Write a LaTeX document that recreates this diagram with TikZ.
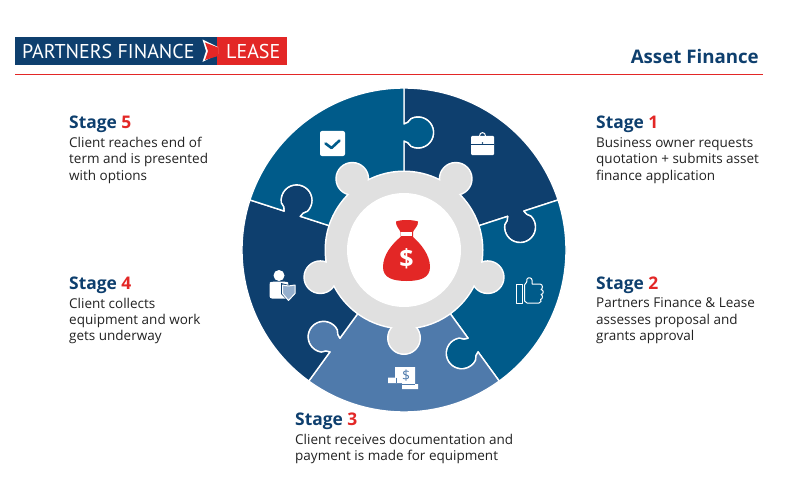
\documentclass[tikz,border=0pt]{standalone}
\usepackage{fontspec}
\setmainfont{Open Sans}
\newfontfamily\logofont{PT Sans}
\definecolor{navy}{HTML}{0E3F6E}
\definecolor{teal}{HTML}{005B8A}
\definecolor{steel}{HTML}{4F7AAB}
\definecolor{ringgray}{HTML}{E0E0E0}
\definecolor{pfred}{HTML}{E32726}
\definecolor{ink}{HTML}{222222}
\tikzset{
  piece/.style={draw=white,line width=1.4pt,line join=round},
  head/.style={anchor=base west,inner sep=0pt,font=\fontsize{17.4}{20}\selectfont\bfseries,text=navy},
  body/.style={anchor=north west,inner sep=0pt,align=left,text=ink,font=\fontsize{13.5}{16.4}\selectfont},
  logotext/.style={anchor=base west,inner sep=0pt,text=white,font=\logofont\fontsize{20}{22}\selectfont},
  iconline/.style={draw=white,line width=1pt,line join=round,line cap=round},
}
\newcommand{\num}[1]{\textcolor{pfred}{#1}}
\newcommand{\piecepath}{
  (0,0) -- (0,109) .. controls (3,109) and (5,106) .. (7,103.7)
  arc[start angle=-117,end angle=117,radius=15.5]
  .. controls (5,129) and (3,126) .. (0,126) -- (0,162)
  arc[start angle=90,end angle=18,radius=162]
  -- ([rotate=-72]0,126) .. controls ([rotate=-72]3,126) and ([rotate=-72]5,129) .. ([rotate=-72]7,131.3)
  arc[start angle=45,end angle=-189,radius=15.5]
  .. controls ([rotate=-72]5,106) and ([rotate=-72]3,109) .. ([rotate=-72]0,109) -- cycle
}
\begin{document}
\begin{tikzpicture}[x=1pt,y=-1pt]
\useasboundingbox (0,0) rectangle (800,500);
\fill[white] (0,0) rectangle (800,500);
% logo
\fill[navy] (15,37) rectangle (217,65);
\fill[pfred] (217,37) rectangle (287,65);
\fill[white] (202.5,39.5) -- (218,47) -- (218,54) -- (202.5,62) -- (206,51) -- cycle;
\fill[pfred] (205,42.5) -- (218,47.5) -- (218,56) -- (205,60) -- (208,51) -- cycle;
\node[logotext] (logoa) at (22,58.5) {PARTNERS FINANCE};
\node[logotext] (logob) at (226,58.5) {LEASE};
\node[anchor=base east,inner sep=0pt,text=navy,font=\fontsize{18.7}{22}\selectfont\bfseries] (title) at (759,64) {Asset Finance};
\draw[pfred,line width=1.2pt] (15,74.7) -- (763,74.7);
% wheel
\begin{scope}[shift={(404,250)},x=1pt,y=1pt]
  \begin{scope}[rotate=0]\path[piece,fill=navy] \piecepath;\end{scope}
  \begin{scope}[rotate=-72]\path[piece,fill=teal] \piecepath;\end{scope}
  \begin{scope}[rotate=-144]\path[piece,fill=steel] \piecepath;\end{scope}
  \begin{scope}[rotate=-216]\path[piece,fill=navy] \piecepath;\end{scope}
  \begin{scope}[rotate=-288]\path[piece,fill=teal] \piecepath;\end{scope}
  \foreach \a in {54,126,198,270,342}{
    \fill[white] (\a:88) circle[radius=17];
  }
  \fill[white] (0,0) circle[radius=79.5];
  \foreach \a in {54,126,198,270,342}{
    \fill[ringgray] (\a:88) circle[radius=15.5];
  }
  \fill[ringgray] (0,0) circle[radius=78];
  \fill[white] (0,0) circle[radius=57];
\end{scope}
% money bag
\fill[pfred] (396,221.5) .. controls (401,219.5) and (412,219.5) .. (418,221.5)
  .. controls (418.5,226) and (414,229) .. (413,232) -- (413,237)
  .. controls (421,244) and (430,255) .. (430,267)
  .. controls (430,278) and (420,281) .. (406.7,281)
  .. controls (393,281) and (383,278) .. (383,267)
  .. controls (383,255) and (392,244) .. (400.5,237) -- (400.5,232)
  .. controls (399.5,229) and (395.5,226) .. cycle;
\fill[white] (401,232) rectangle (412,236);
\node[inner sep=0pt,text=white,font=\fontsize{25}{26}\selectfont\bfseries] (dollar) at (406.5,259) {\$};
% check icon
\fill[white,rounded corners=2pt] (320,131) rectangle (345,156);
\draw[teal,line width=2.6pt,line join=round,line cap=round] (325.5,143.5) -- (331.5,148) -- (339.5,140.5);
% briefcase icon
\draw[white,line width=1pt] (479.5,136) .. controls (479.5,131.5) and (485.5,131.5) .. (485.5,136);
\fill[white,rounded corners=1pt] (471,136) rectangle (494,155);
\draw[navy,line width=.8pt] (471,144.3) -- (494,144.3);
\fill[navy] (482.5,143) circle[radius=.8];
% thumb icon
\draw[iconline] (516.5,284.5) rectangle (522,303);
\draw[iconline] (524.5,285) .. controls (527,283) and (527,281) .. (527,279) .. controls (528,277) and (532,277.5) .. (532,280) -- (532,284)
  -- (540,284) .. controls (543,284) and (543,289) .. (541,289.5) .. controls (544,290) and (544,294) .. (541,294.5)
  .. controls (543,295) and (543,299) .. (540.5,299.5) .. controls (542,300) and (541,303) .. (539,303) -- (527,303) -- (524.5,301) -- cycle;
% person icon
\fill[white] (279,275.5) circle[radius=5.5];
\fill[white,rounded corners=2.5pt] (269.5,298.5) -- (269.5,285) .. controls (270,282) and (274,281.5) .. (279,281.5) .. controls (284,281.5) and (288,282) .. (288.5,285) -- (288.5,298.5) -- cycle;
\fill[navy] (281,283) -- (289,285) -- (296.5,283) -- (296.5,294) -- (289,302) -- (281,294) -- cycle;
\path[draw=white,fill=steel!60!white,line width=1pt,line join=round] (282.5,285) -- (288.5,286) -- (295,285) -- (295,293.5) -- (288.5,300.5) -- (282.5,293.5) -- cycle;
% document icon
\fill[white] (388,377.5) -- (395,377.5) -- (395,367) -- (415,367) -- (415,384) -- (418,384) -- (418,389) -- (402,389) -- (402,383) -- (388,383) -- cycle;
\draw[steel,line width=.5pt] (396.5,377.5) -- (396.5,383) (402,384) -- (415,384);
\node[inner sep=0pt,text=steel,font=\fontsize{14}{16}\selectfont] (docd) at (406,375.5) {\$};
% labels
\node[head] (h1) at (596,128.5) {Stage \num{1}};
\node[body] (b1) at (596,137.2) {Business owner requests\\quotation + submits asset\\finance application};
\node[head] (h2) at (596,289.5) {Stage \num{2}};
\node[body] (b2) at (596,297.7) {Partners Finance \& Lease\\assesses proposal and\\grants approval};
\node[head] (h3) at (295,425.5) {Stage \num{3}};
\node[body] (b3) at (295,433.7) {Client receives documentation and\\payment is made for equipment};
\node[head] (h4) at (69,289.5) {Stage \num{4}};
\node[body] (b4) at (69,297.7) {Client collects\\equipment and work\\gets underway};
\node[head] (h5) at (69,128.5) {Stage \num{5}};
\node[body] (b5) at (69,136.7) {Client reaches end of\\term and is presented\\with options};
\end{tikzpicture}
\end{document}
